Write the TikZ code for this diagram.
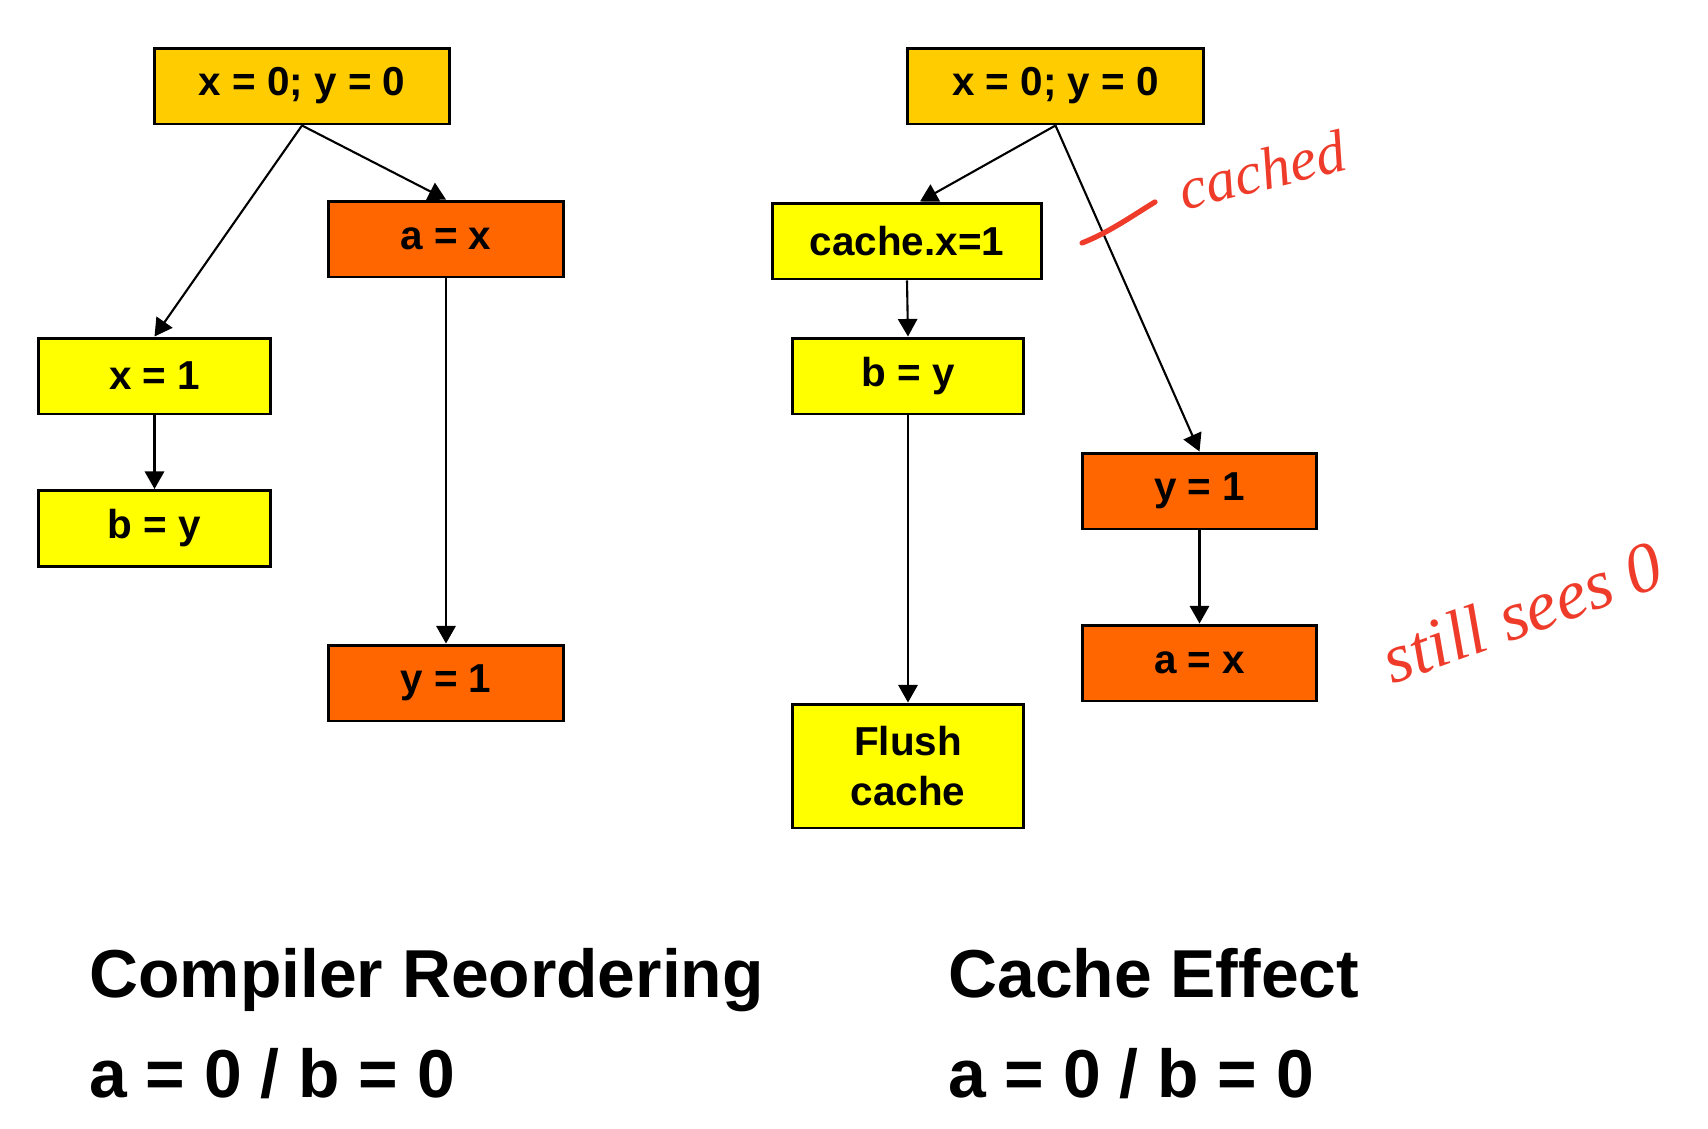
\documentclass[tikz,border=0pt]{standalone}
\usepackage{fontspec}
\setmainfont{Liberation Sans}
\newfontfamily\handfont{Liberation Serif}
\usetikzlibrary{arrows.meta}
\definecolor{initcol}{HTML}{FFCC00}
\definecolor{yelcol}{HTML}{FFFF00}
\definecolor{orgcol}{HTML}{FF6600}
\definecolor{inkcol}{HTML}{EE3B2A}
\begin{document}
\begin{tikzpicture}[
  x={(0.02cm,0)}, y={(0,-0.02cm)},
  block/.style = {
    draw,
    shape=rectangle,
    line width=1.7pt,
    minimum height=1.52cm,
    inner sep=0pt,
    font=\fontsize{23}{28}\selectfont\bfseries,
    align=center
  },
  ink/.style = {inkcol, inner sep=0pt},
  caption/.style = {anchor=base west, inner sep=0pt, font=\fontsize{38.6}{46}\selectfont\bfseries},
  >={Triangle[width=11pt,length=10pt]},
]
  \useasboundingbox (0,0) rectangle (1708,1129);

  % compiler reordering
  \node (init)[block, fill=initcol, minimum width=5.92cm] at (302,86) {x = 0; y = 0};
  \node (ax)[block, fill=orgcol, minimum width=4.72cm] at (446,239) {a = x};
  \node (x1)[block, fill=yelcol, minimum width=4.66cm] at (154.5,376) {x = 1};
  \node (by)[block, fill=yelcol, minimum width=4.66cm] at (154.5,528.5) {b = y};
  \node (y1)[block, fill=orgcol, minimum width=4.72cm] at (446,683) {y = 1};

  \draw[line width=1.2pt,->] (init.south) -- (x1.north);
  \draw[line width=1.2pt,->] (init.south) -- (ax.north);
  \draw[line width=1.2pt,->] (x1) -- (by);
  \draw[line width=1.2pt,->] (ax) -- (y1);

  % cache effect
  \node (rinit)[block, fill=initcol, minimum width=5.94cm] at (1055.5,86) {x = 0; y = 0};
  \node (cachex)[block, fill=yelcol, minimum width=5.4cm] at (907,241) {cache.x=1};
  \node (rby)[block, fill=yelcol, minimum width=4.64cm] at (908,376) {b = y};
  \node (flush)[block, fill=yelcol, minimum width=4.64cm, minimum height=2.48cm] at (908,766) {Flush\\cache};
  \node (ry1)[block, fill=orgcol, minimum width=4.7cm] at (1199.5,491) {y = 1};
  \node (rax)[block, fill=orgcol, minimum width=4.7cm] at (1199.5,663) {a = x};

  \draw[line width=1.2pt,->] (rinit.south) -- ([xshift=0.26cm]cachex.north);
  \draw[line width=1.2pt,->] (rinit.south) -- (ry1.north);
  \draw[line width=1.2pt,->] (cachex.south) -- (rby.north);
  \draw[line width=1.2pt,->] (rby) -- (flush);
  \draw[line width=1.2pt,->] (ry1) -- (rax);

  % handwritten notes
  \draw[inkcol, line width=3pt, line cap=round] (1082,243) .. controls (1110,232) and (1135,214) .. (1155,202);
  \node (cachednote)[ink, rotate=14, font=\handfont\itshape\fontsize{34}{40}\selectfont] at (1262,170) {cached};
  \node (seesnote)[ink, rotate=20, font=\handfont\itshape\fontsize{40}{48}\selectfont] at (1522,612) {still sees 0};

  % captions
  \node (lefttitle)[caption] at (89,997) {Compiler Reordering};
  \node (leftres)[caption] at (89,1097) {a = 0 / b = 0};
  \node (righttitle)[caption] at (948,997) {Cache Effect};
  \node (rightres)[caption] at (948,1097) {a = 0 / b = 0};
\end{tikzpicture}
\end{document}
